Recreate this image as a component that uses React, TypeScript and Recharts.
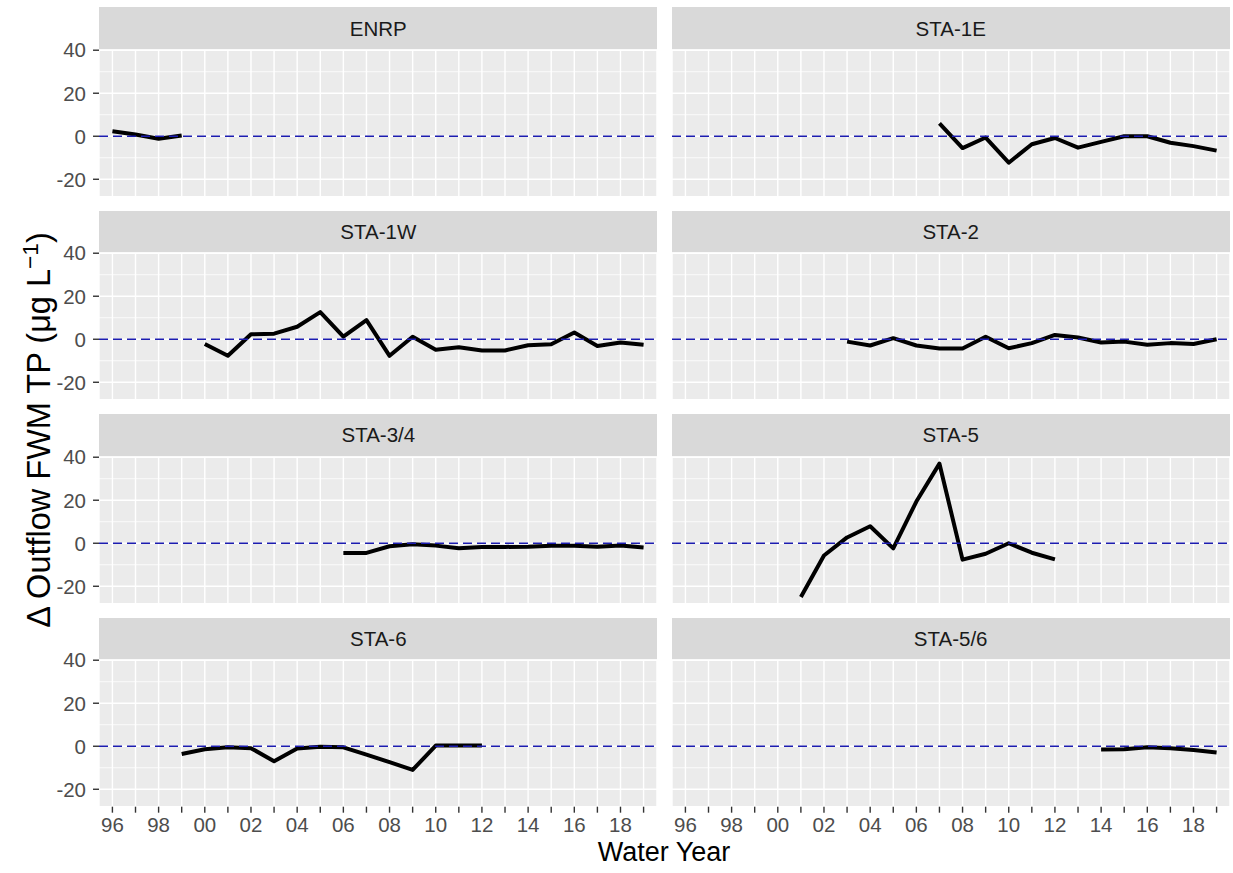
import React from "react";
import { LineChart, Line, XAxis, YAxis, CartesianGrid, ReferenceLine } from "recharts";

// water years 1996..2019, one value per year (null = no data)
const YEARS = [
  1996, 1997, 1998, 1999, 2000, 2001, 2002, 2003, 2004, 2005, 2006, 2007,
  2008, 2009, 2010, 2011, 2012, 2013, 2014, 2015, 2016, 2017, 2018, 2019,
];
const N = null;

const ENRP = [2.3, 0.8, -1.2, 0.3, N, N, N, N, N, N, N, N, N, N, N, N, N, N, N, N, N, N, N, N];
const STA_1E = [N, N, N, N, N, N, N, N, N, N, N, 6.0, -5.5, -0.6, -12.3, -3.7, -0.8, -5.3, -2.6, 0, 0, -3.0, -4.6, -6.7];
const STA_1W = [N, N, N, N, -2.2, -7.7, 2.3, 2.6, 5.8, 12.6, 1.2, 8.9, -7.7, 1.2, -4.9, -3.7, -5.2, -5.2, -2.8, -2.3, 3.1, -3.1, -1.5, -2.6];
const STA_2 = [N, N, N, N, N, N, N, -1.1, -2.9, 0.5, -2.9, -4.3, -4.3, 1.2, -4.2, -1.8, 2.0, 0.8, -1.5, -1.1, -2.6, -1.8, -2.2, 0];
const STA_34 = [N, N, N, N, N, N, N, N, N, N, -4.5, -4.5, -1.4, -0.5, -1.1, -2.3, -1.7, -1.7, -1.6, -1.2, -1.2, -1.6, -1.1, -2.0];
const STA_5 = [N, N, N, N, N, -25, -5.7, 2.7, 7.9, -2.4, 19.4, 37, -7.6, -4.9, 0, -4.4, -7.5, N, N, N, N, N, N, N];
const STA_6 = [N, N, N, -3.6, -1.4, -0.5, -0.9, -7.0, -1.1, -0.2, -0.5, -3.9, -7.4, -11.0, 0.3, 0.3, 0.3, N, N, N, N, N, N, N];
const STA_56 = [N, N, N, N, N, N, N, N, N, N, N, N, N, N, N, N, N, N, -1.5, -1.4, -0.5, -0.9, -1.7, -2.9];

const PANELS = [
  { name: "ENRP", values: ENRP },
  { name: "STA-1E", values: STA_1E },
  { name: "STA-1W", values: STA_1W },
  { name: "STA-2", values: STA_2 },
  { name: "STA-3/4", values: STA_34 },
  { name: "STA-5", values: STA_5 },
  { name: "STA-6", values: STA_6 },
  { name: "STA-5/6", values: STA_56 },
];

const Y_TICKS = [-20, 0, 20, 40];
const Y_MINOR = [-10, 10, 30];

// layout (px, page coordinates)
const COL_X = [99.3, 671.7];
const PANEL_W = 558;
const ROW_TOP = 7.3;
const ROW_STEP = 203.4;
const STRIP_H = 42.7;
const PANEL_H = 146.7;
const Y_AXIS_W = 60;
const X_AXIS_H = 40;
const PAD = 14; // room above the plot so the top tick label is not pushed down

const tickFont = { fill: "#4D4D4D", fontSize: 20.5 };

function Panel({ name, values, col, row }: { name: string; values: (number | null)[]; col: number; row: number }) {
  const data = YEARS.map((year, i) => ({ year, v: values[i] }));
  const showY = col === 0;
  const showX = row === 3;
  const top = ROW_TOP + row * ROW_STEP;
  return (
    <>
      <div
        style={{
          position: "absolute",
          left: COL_X[col],
          top,
          width: PANEL_W,
          height: STRIP_H,
          background: "#D9D9D9",
          display: "flex",
          alignItems: "center",
          justifyContent: "center",
          fontSize: 20.5,
          color: "#1A1A1A",
        }}
      >
        {name}
      </div>
      <div style={{ position: "absolute", left: COL_X[col] - (showY ? Y_AXIS_W : 0), top: top + STRIP_H - PAD }}>
        <LineChart
          width={PANEL_W + (showY ? Y_AXIS_W : 0)}
          height={PANEL_H + PAD * 2 + (showX ? X_AXIS_H : 0)}
          data={data}
          margin={{ top: PAD, right: 0, bottom: PAD, left: 0 }}
        >
          <CartesianGrid fill="#EBEBEB" stroke="#FFFFFF" strokeWidth={1.4} />
          <XAxis
            dataKey="year"
            type="number"
            domain={[1995.42, 2019.58]}
            ticks={YEARS}
            interval={0}
            allowDataOverflow
            hide={!showX}
            height={X_AXIS_H}
            axisLine={false}
            tickLine={{ stroke: "#333333", strokeWidth: 1.4 }}
            tickSize={6}
            tickMargin={5}
            tick={tickFont}
            tickFormatter={(v: number) => (v % 2 === 0 ? String(v).slice(2) : "")}
          />
          <YAxis
            type="number"
            domain={[-28.1, 40.1]}
            ticks={Y_TICKS}
            allowDataOverflow
            hide={!showY}
            width={Y_AXIS_W}
            axisLine={false}
            tickLine={{ stroke: "#333333", strokeWidth: 1.4 }}
            tickSize={6}
            tickMargin={7}
            tick={tickFont}
          />
          {Y_MINOR.map((m) => (
            <ReferenceLine key={m} y={m} stroke="#FFFFFF" strokeWidth={0.8} />
          ))}
          <Line
            dataKey="v"
            type="linear"
            stroke="#000000"
            strokeWidth={4}
            dot={false}
            activeDot={false}
            isAnimationActive={false}
            strokeLinejoin="round"
          />
          <ReferenceLine y={0} stroke="#1C1CB0" strokeWidth={1.3} strokeDasharray="9 5" />
        </LineChart>
      </div>
    </>
  );
}

export default function App() {
  return (
    <div
      style={{
        position: "absolute",
        left: 0,
        top: 0,
        width: 1233,
        height: 873,
        background: "#FFFFFF",
        fontFamily: "'Liberation Sans', Arial, sans-serif",
        overflow: "hidden",
      }}
    >
      {PANELS.map((p, i) => (
        <Panel key={p.name} name={p.name} values={p.values} col={i % 2} row={Math.floor(i / 2)} />
      ))}
      <div
        style={{
          position: "absolute",
          left: 664,
          top: 852,
          transform: "translate(-50%, -50%)",
          fontSize: 27,
          lineHeight: 1,
          color: "#000000",
          whiteSpace: "nowrap",
        }}
      >
        Water Year
      </div>
      <div
        style={{
          position: "absolute",
          left: 37,
          top: 430,
          transform: "translate(-50%, -50%) rotate(-90deg)",
          fontSize: 32.5,
          lineHeight: 1,
          color: "#000000",
          whiteSpace: "nowrap",
        }}
      >
        Δ Outflow FWM TP (μg L<sup style={{ fontSize: "0.7em" }}>−1</sup>)
      </div>
    </div>
  );
}
